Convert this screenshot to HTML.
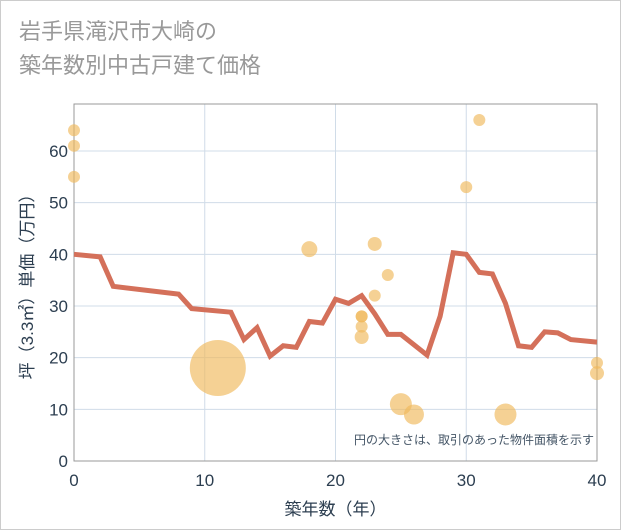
<!DOCTYPE html>
<html><head><meta charset="utf-8"><style>
body{margin:0;background:#fff}
#wrap{width:619px;height:528px;border:1px solid #ccc;position:relative;font-family:"Liberation Sans","Noto Sans CJK JP",sans-serif;background:#fff}
h1{position:absolute;left:18px;top:14px;margin:0;font-size:22px;font-weight:normal;color:#999;line-height:34px}
</style></head><body>
<div id="wrap">
<h1>岩手県滝沢市大崎の<br>築年数別中古戸建て価格</h1>
<svg id="c" width="621" height="530" style="position:absolute;left:0;top:0"></svg>
</div>
<script>
const lineX=[0,2,3,8,9,12,13,14,15,16,17,18,19,20,21,22,23,24,25,27,28,29,30,31,32,33,34,35,36,37,38,40];
const lineY=[40,39.5,33.8,32.3,29.5,28.8,23.5,25.8,20.3,22.3,22,27,26.7,31.3,30.5,32,28.5,24.5,24.5,20.5,28,40.3,40,36.5,36.2,30.5,22.3,22,25,24.8,23.5,23];
const bubX=[0,0,0,11,18,22,22,22,22,23,23,24,25,26,30,31,33,40,40];
const bubY=[64,61,55,18,41,28,28,26,24,42,32,36,11,9,53,66,9,19,17];
const bubS=[6,6,6,28,8,6,6,6,7,7,6,6,11,10,6,6,11,6,7];
const xTicks=[0,10,20,30,40];
const yTicks=[0,10,20,30,40,50,60];
const L=73,R=596,T=103,B=460;
const sx=v=>L+(R-L)*v/40;
const sy=v=>B-v*51.67/10;
const svg=document.getElementById('c');
const NS='http://www.w3.org/2000/svg';
const TC='#2c3e50';
function mk(t,a){const e=document.createElementNS(NS,t);for(const k in a)e.setAttribute(k,a[k]);svg.appendChild(e);return e;}
xTicks.forEach(v=>{const g=mk('line',{x1:sx(v),x2:sx(v),y1:T,y2:B,stroke:'#d0dce8','stroke-width':1});


const t=mk('text',{x:sx(v),y:B+25,'text-anchor':'middle','font-size':17,fill:TC});t.textContent=v;

});
yTicks.forEach(v=>{const g=mk('line',{x1:L,x2:R,y1:sy(v),y2:sy(v),stroke:'#d0dce8','stroke-width':1});


const t=mk('text',{x:L-6,y:sy(v)+6,'text-anchor':'end','font-size':17,fill:TC});t.textContent=v;

});
const fr=mk('rect',{x:L,y:T,width:R-L,height:B-T,fill:'none',stroke:'#999','stroke-width':1});


const pl=mk('polyline',{points:lineX.map((x,i)=>sx(x)+','+sy(lineY[i])).join(' '),fill:'none',stroke:'#d4705a','stroke-width':5,'stroke-linejoin':'miter'});


bubX.forEach((x,i)=>{const c=mk('circle',{cx:sx(x),cy:sy(bubY[i]),r:bubS[i],fill:'rgba(240,185,90,0.65)'});

});
const n=mk('text',{x:593,y:443,'text-anchor':'end','font-size':12,fill:'#445566'});n.textContent='円の大きさは、取引のあった物件面積を示す';


const xt=mk('text',{x:(L+R)/2,y:514,'text-anchor':'middle','font-size':17,fill:TC});xt.textContent='築年数（年）';


const yt=mk('text',{x:0,y:0,'text-anchor':'middle','font-size':17,fill:TC,transform:'translate(32,'+((T+B)/2)+') rotate(-90)'});yt.textContent='坪（3.3㎡）単価（万円）';


</script>
</body></html>
